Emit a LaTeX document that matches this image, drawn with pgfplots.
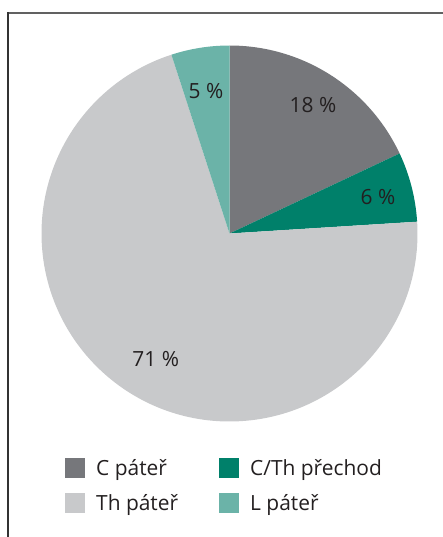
\documentclass[border=0pt]{standalone}
\usepackage{pgfplots}
\pgfplotsset{compat=1.18}
\usepackage{pgfplotstable}
\usepackage{fontspec}
\setmainfont{Open Sans}
\definecolor{cpat}{HTML}{76777B}
\definecolor{cth}{HTML}{00806A}
\definecolor{thp}{HTML}{C8C9CB}
\definecolor{lp}{HTML}{6BB3A8}
\definecolor{txt}{HTML}{231F20}
\pgfplotsset{legend image code/.code={\fill[#1,draw=none] (0bp,-10bp) rectangle (20bp,10bp);}}
\pgfplotstableread{
label value
C 18
CTh 6
Th 71
L 5
}\piedata
\begin{document}%
\begin{tikzpicture}
\pgfplotstablegetelem{0}{value}\of\piedata\let\vA\pgfplotsretval
\pgfplotstablegetelem{1}{value}\of\piedata\let\vB\pgfplotsretval
\pgfplotstablegetelem{2}{value}\of\piedata\let\vC\pgfplotsretval
\pgfplotstablegetelem{3}{value}\of\piedata\let\vD\pgfplotsretval
\pgfmathsetmacro\aA{90}
\pgfmathsetmacro\aB{\aA-3.6*\vA}
\pgfmathsetmacro\aC{\aB-3.6*\vB}
\pgfmathsetmacro\aD{\aC-3.6*\vC}
\pgfmathsetmacro\aE{\aD-3.6*\vD}
\begin{axis}[width=443bp,height=537bp,scale only axis,
  xmin=0,xmax=443,ymin=0,ymax=537,y dir=reverse,
  hide axis,clip=false,
  legend columns=2,
  legend cell align=left,
  legend style={at={(axis cs:65,458)},anchor=north west,draw=none,fill=none,
    font=\fontsize{21}{25}\selectfont,text=txt,inner sep=0pt,
    nodes={inner sep=0pt},row sep=15bp,
    /tikz/every odd column/.append style={column sep=11bp},
    /tikz/every even column/.append style={column sep=41bp}},
]
\addlegendimage{fill=cpat}\addlegendentry{C páteř}
\addlegendimage{fill=cth}\addlegendentry{C/Th přechod}
\addlegendimage{fill=thp}\addlegendentry{Th páteř}
\addlegendimage{fill=lp}\addlegendentry{L páteř}
\coordinate (BL) at (axis cs:0,537);
\coordinate (TR) at (axis cs:443,0);
\draw[color=black!62,line width=2bp] (axis cs:8,13) -- (axis cs:443,13);
\draw[color=black!80,line width=2bp] (axis cs:8,12) -- (axis cs:8,537);
\fill[cpat] (axis cs:229.5,233.5) -- ++(\aA:188bp) arc[start angle=\aA,end angle=\aB,radius=188bp] -- cycle;
\fill[cth] (axis cs:229.5,233.5) -- ++(\aB:188bp) arc[start angle=\aB,end angle=\aC,radius=188bp] -- cycle;
\fill[thp] (axis cs:229.5,233.5) -- ++(\aC:188bp) arc[start angle=\aC,end angle=\aD,radius=188bp] -- cycle;
\fill[lp] (axis cs:229.5,233.5) -- ++(\aD:188bp) arc[start angle=\aD,end angle=\aE,radius=188bp] -- cycle;
\begin{scope}[every node/.style={font=\fontsize{21}{25}\selectfont,text=txt}]
\node at (axis cs:313,105) {18 \%};
\node at (axis cs:378,197) {6 \%};
\node at (axis cs:206,91) {5 \%};
\node at (axis cs:155.7,359.3) {71 \%};
\end{scope}
\end{axis}
\pgfresetboundingbox
\path[use as bounding box] (BL) rectangle (TR);
\end{tikzpicture}%
\end{document}
